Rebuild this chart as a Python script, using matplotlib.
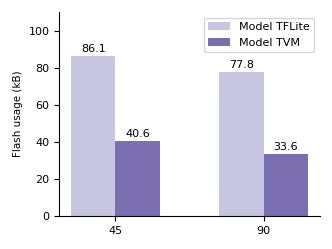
import numpy as np
import matplotlib
matplotlib.use('Agg')
import matplotlib.pyplot as plt

categories = ['45', '90']
tflite = [86.1, 77.8]
tvm = [40.6, 33.6]

x = np.arange(len(categories))
w = 0.3

fig = plt.figure(figsize=(3.32, 2.49), dpi=100)
ax = fig.add_axes([0.178, 0.1325, 0.786, 0.8195])
b1 = ax.bar(x - w/2, tflite, w, color='#c6c6e2', label='Model TFLite')
b2 = ax.bar(x + w/2, tvm, w, color='#7b6fb1', label='Model TVM')
for bars in (b1, b2):
    for r in bars:
        ax.text(r.get_x() + r.get_width()/2, r.get_height() + 1, f'{r.get_height():.1f}',
                ha='center', va='bottom', fontsize=8)

ax.set_xticks(x)
ax.set_xticklabels(categories, fontsize=8)
ax.set_ylim(0, 110)
ax.set_yticks([0, 20, 40, 60, 80, 100])
ax.tick_params(axis='y', labelsize=8)
ax.set_ylabel('Flash usage (kB)', fontsize=7.5)
ax.spines['top'].set_visible(False)
ax.spines['right'].set_visible(False)
ax.legend(loc='upper right', fontsize=8)

fig.savefig('out.png', dpi=100)
